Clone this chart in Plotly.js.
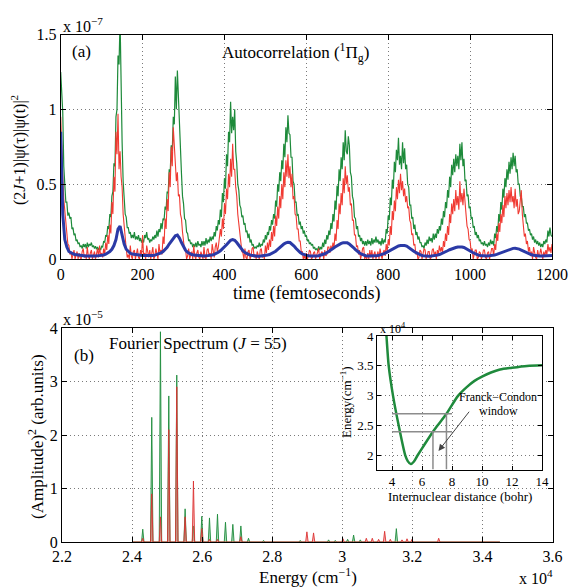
<!DOCTYPE html>
<html><head><meta charset="utf-8">
<script src="https://cdn.plot.ly/plotly-3.0.1.min.js"></script>
<style>html,body{margin:0;padding:0;background:#fff}#chart{width:570px;height:587px}</style>
</head><body><div id="chart"></div>
<script>
// ---------- (a) Autocorrelation (units of 1e-7) ----------
// green and red sampled every 2.5 fs, blue every 5 fs, all from 0 to 1200 fs
const acStart = 0, fineStep = 2.5, coarseStep = 5;
const greenAC = [
 1.25,1.05,0.98,0.62,0.48,0.38,0.38,0.29,0.31,0.27,0.28,0.2,0.21,0.16,0.17,0.12,0.13,0.1,0.11,0.08,
 0.09,0.07,0.1,0.08,0.1,0.07,0.11,0.08,0.1,0.09,0.11,0.08,0.09,0.07,0.085,0.065,0.08,0.06,0.075,0.06,
 0.085,0.08,0.12,0.11,0.16,0.15,0.22,0.2,0.3,0.28,0.42,0.45,0.64,0.62,0.95,1.0,1.36,1.3,1.6,1.1,
 0.78,0.52,0.42,0.3,0.28,0.21,0.21,0.17,0.18,0.14,0.16,0.14,0.18,0.13,0.15,0.13,0.16,0.12,0.14,0.11,
 0.13,0.11,0.16,0.14,0.18,0.13,0.14,0.11,0.13,0.12,0.15,0.13,0.16,0.14,0.19,0.15,0.2,0.18,0.24,0.2,
 0.27,0.26,0.35,0.33,0.45,0.44,0.6,0.58,0.76,0.72,0.95,0.9,1.22,1.0,1.26,1.05,0.88,0.64,0.57,0.42,
 0.37,0.27,0.26,0.18,0.17,0.12,0.13,0.1,0.11,0.08,0.1,0.08,0.11,0.08,0.12,0.09,0.1,0.08,0.12,0.09,
 0.12,0.09,0.14,0.1,0.13,0.11,0.15,0.12,0.15,0.13,0.18,0.15,0.22,0.19,0.26,0.23,0.33,0.28,0.44,0.38,
 0.54,0.47,0.7,0.62,0.85,0.78,1.05,0.84,0.95,0.86,1.0,0.72,0.64,0.5,0.46,0.36,0.34,0.28,0.29,0.23,
 0.24,0.18,0.19,0.14,0.17,0.11,0.13,0.09,0.1,0.07,0.08,0.07,0.09,0.08,0.11,0.08,0.1,0.09,0.13,0.11,
 0.16,0.13,0.18,0.16,0.22,0.19,0.26,0.23,0.3,0.27,0.39,0.35,0.5,0.45,0.58,0.52,0.66,0.6,0.77,0.68,
 0.88,0.78,0.96,0.84,0.83,0.68,0.68,0.52,0.5,0.38,0.38,0.29,0.3,0.23,0.25,0.2,0.22,0.17,0.19,0.15,
 0.16,0.12,0.13,0.1,0.11,0.09,0.1,0.07,0.08,0.06,0.07,0.055,0.085,0.06,0.08,0.065,0.11,0.08,0.13,0.1,
 0.16,0.13,0.19,0.16,0.24,0.2,0.3,0.25,0.39,0.33,0.49,0.42,0.6,0.52,0.68,0.6,0.78,0.66,0.86,0.72,
 0.7,0.82,0.76,0.58,0.55,0.42,0.39,0.28,0.27,0.2,0.22,0.15,0.16,0.12,0.14,0.1,0.12,0.09,0.12,0.09,
 0.13,0.1,0.12,0.09,0.14,0.1,0.13,0.11,0.15,0.11,0.13,0.1,0.12,0.09,0.14,0.1,0.13,0.11,0.2,0.17,
 0.29,0.26,0.41,0.36,0.53,0.47,0.65,0.58,0.73,0.66,0.81,0.63,0.69,0.6,0.78,0.64,0.74,0.6,0.63,0.5,
 0.48,0.36,0.36,0.27,0.28,0.2,0.23,0.16,0.18,0.13,0.15,0.11,0.11,0.08,0.09,0.07,0.11,0.09,0.13,0.1,
 0.15,0.12,0.14,0.11,0.17,0.13,0.17,0.14,0.2,0.17,0.22,0.19,0.27,0.23,0.32,0.28,0.38,0.34,0.46,0.41,
 0.55,0.48,0.63,0.56,0.67,0.58,0.7,0.62,0.69,0.6,0.77,0.66,0.78,0.62,0.67,0.52,0.53,0.42,0.43,0.34,
 0.35,0.27,0.28,0.21,0.22,0.16,0.18,0.14,0.16,0.12,0.13,0.1,0.11,0.09,0.12,0.09,0.1,0.08,0.11,0.09,
 0.13,0.1,0.12,0.09,0.17,0.14,0.22,0.18,0.3,0.25,0.38,0.33,0.47,0.41,0.54,0.48,0.6,0.53,0.65,0.57,
 0.68,0.6,0.71,0.62,0.69,0.58,0.6,0.5,0.5,0.42,0.42,0.35,0.35,0.28,0.3,0.24,0.24,0.19,0.2,0.16,
 0.17,0.13,0.15,0.11,0.13,0.1,0.12,0.09,0.11,0.08,0.1,0.08,0.12,0.1,0.13,0.11,0.19,0.15,0.21,0.16,
 0.15];
const redAC = [
 0.95,0.7,0.55,0.4,0.32,0.22,0.16,0.1,0.09,0.03,0.05,0.0,0.03,0.06,0.0,0.02,0.05,0.0,0.04,0.01,
 0.0,0.05,0.07,0.01,0.03,0.0,0.08,0.02,0.0,0.04,0.06,0.0,0.02,0.05,0.0,0.03,0.07,0.01,0.09,0.02,
 0.04,0.01,0.07,0.03,0.11,0.06,0.16,0.1,0.23,0.17,0.38,0.3,0.55,0.45,0.85,0.7,0.97,0.6,0.72,0.55,
 0.48,0.3,0.22,0.1,0.07,0.01,0.03,0.0,0.09,0.02,0.0,0.05,0.06,0.0,0.03,0.07,0.01,0.0,0.06,0.02,
 0.16,0.02,0.04,0.0,0.09,0.03,0.01,0.06,0.0,0.04,0.08,0.0,0.02,0.07,0.03,0.0,0.1,0.04,0.06,0.03,
 0.15,0.1,0.27,0.2,0.4,0.32,0.58,0.48,0.75,0.62,0.88,0.7,0.64,0.52,0.58,0.42,0.43,0.3,0.27,0.18,
 0.13,0.06,0.06,0.0,0.02,0.07,0.0,0.03,0.05,0.0,0.09,0.02,0.0,0.04,0.06,0.01,0.0,0.05,0.03,0.0,
 0.08,0.01,0.0,0.06,0.07,0.02,0.04,0.0,0.1,0.03,0.01,0.08,0.11,0.05,0.08,0.14,0.2,0.15,0.27,0.2,
 0.37,0.3,0.47,0.4,0.57,0.48,0.67,0.55,0.77,0.6,0.6,0.48,0.42,0.3,0.24,0.15,0.12,0.05,0.04,0.0,
 0.07,0.01,0.0,0.05,0.06,0.0,0.02,0.07,0.08,0.01,0.03,0.0,0.05,0.02,0.0,0.06,0.07,0.01,0.03,0.0,
 0.09,0.04,0.11,0.06,0.13,0.08,0.18,0.12,0.22,0.15,0.29,0.22,0.35,0.27,0.42,0.34,0.5,0.4,0.58,0.48,
 0.66,0.55,0.7,0.54,0.62,0.48,0.57,0.4,0.42,0.3,0.29,0.2,0.2,0.12,0.12,0.05,0.05,0.0,0.02,0.0,
 0.04,0.0,0.02,0.06,0.05,0.0,0.01,0.04,0.05,0.0,0.03,0.06,0.07,0.0,0.02,0.05,0.04,0.0,0.06,0.02,
 0.03,0.08,0.08,0.04,0.09,0.06,0.11,0.07,0.17,0.12,0.26,0.2,0.37,0.3,0.44,0.36,0.54,0.44,0.62,0.5,
 0.56,0.45,0.48,0.36,0.37,0.26,0.26,0.16,0.16,0.08,0.09,0.03,0.06,0.0,0.03,0.07,0.08,0.0,0.02,0.0,
 0.04,0.0,0.06,0.01,0.06,0.0,0.03,0.05,0.0,0.03,0.05,0.0,0.07,0.03,0.0,0.04,0.06,0.02,0.1,0.05,
 0.13,0.09,0.22,0.16,0.32,0.26,0.39,0.32,0.48,0.4,0.53,0.44,0.57,0.46,0.52,0.42,0.47,0.38,0.42,0.34,
 0.35,0.26,0.24,0.16,0.17,0.09,0.1,0.03,0.05,0.0,0.01,0.06,0.05,0.0,0.03,0.07,0.06,0.0,0.02,0.05,
 0.05,0.0,0.01,0.06,0.07,0.02,0.05,0.0,0.06,0.03,0.09,0.05,0.08,0.04,0.12,0.08,0.17,0.12,0.22,0.16,
 0.3,0.24,0.37,0.3,0.4,0.32,0.46,0.36,0.42,0.33,0.52,0.38,0.44,0.36,0.47,0.34,0.3,0.22,0.2,0.13,
 0.12,0.05,0.07,0.0,0.03,0.06,0.06,0.0,0.01,0.05,0.04,0.0,0.02,0.06,0.06,0.01,0.0,0.04,0.05,0.0,
 0.03,0.07,0.07,0.02,0.1,0.06,0.17,0.12,0.24,0.18,0.3,0.24,0.36,0.28,0.42,0.34,0.44,0.36,0.46,0.38,
 0.48,0.38,0.42,0.34,0.47,0.35,0.4,0.3,0.32,0.38,0.46,0.3,0.22,0.15,0.17,0.1,0.12,0.05,0.08,0.02,
 0.05,0.0,0.08,0.03,0.01,0.0,0.06,0.02,0.03,0.07,0.04,0.0,0.05,0.02,0.06,0.03,0.1,0.05,0.08,0.04,
 0.1];
const blueAC = [
 0.85,0.3,0.13,0.08,0.05,0.04,0.035,0.03,0.027,0.025,
 0.022,0.02,0.02,0.02,0.019,0.019,0.02,0.02,0.021,0.022,
 0.024,0.027,0.032,0.04,0.05,0.065,0.09,0.13,0.2,0.22,
 0.16,0.1,0.065,0.048,0.038,0.033,0.03,0.028,0.026,0.025,
 0.024,0.023,0.022,0.022,0.023,0.024,0.026,0.029,0.033,0.04,
 0.05,0.062,0.078,0.1,0.12,0.14,0.155,0.16,0.14,0.11,
 0.08,0.058,0.045,0.036,0.03,0.026,0.024,0.022,0.021,0.02,
 0.02,0.021,0.022,0.024,0.027,0.031,0.037,0.045,0.055,0.067,
 0.08,0.095,0.11,0.125,0.13,0.125,0.11,0.09,0.07,0.055,
 0.043,0.035,0.029,0.025,0.022,0.02,0.019,0.019,0.02,0.021,
 0.023,0.026,0.03,0.036,0.043,0.052,0.064,0.077,0.09,0.1,
 0.108,0.112,0.11,0.1,0.086,0.07,0.055,0.043,0.034,0.028,
 0.024,0.021,0.02,0.019,0.019,0.02,0.022,0.025,0.029,0.035,
 0.042,0.05,0.06,0.07,0.08,0.09,0.098,0.104,0.108,0.11,
 0.108,0.1,0.09,0.077,0.063,0.05,0.04,0.032,0.026,0.022,
 0.02,0.019,0.019,0.02,0.021,0.023,0.026,0.03,0.036,0.043,
 0.051,0.06,0.068,0.076,0.082,0.087,0.09,0.092,0.09,0.086,
 0.078,0.068,0.057,0.047,0.038,0.031,0.026,0.022,0.02,0.019,
 0.019,0.02,0.021,0.023,0.026,0.03,0.035,0.041,0.048,0.055,
 0.062,0.068,0.073,0.077,0.08,0.081,0.08,0.077,0.071,0.063,
 0.054,0.045,0.037,0.031,0.026,0.023,0.021,0.02,0.02,0.021,
 0.022,0.024,0.027,0.031,0.036,0.042,0.048,0.054,0.06,0.065,
 0.069,0.071,0.072,0.07,0.066,0.06,0.053,0.046,0.039,0.033,
 0.028,0.025,0.022,0.021,0.02,0.02,0.02,0.021,0.022,0.023,
 0.024];
const timeTicks = [0,200,400,600,800,1000,1200];

// ---------- (b) Fourier spectrum peaks (energy cm^-1, amplitude^2 in 1e-5) ----------
const greenPeakE = [24305,24562,24810,25048,25276,25514,25752,25990,26209,26438,26666,26876,27105,27323,27752,28800,29609,29800,30152,30323,30514,31543];
const greenPeakA = [0.24,2.33,3.93,2.73,3.12,0.62,0.3,0.48,0.45,0.52,0.37,0.33,0.3,0.07,0.03,0.03,0.04,0.03,0.05,0.13,0.04,0.25];
const redPeakE = [24305,24562,24810,25048,25276,25514,25752,25990,26209,26438,27105,28990,29180,30020,30686,30857,31037,31209,31371,31705,31848,31990,32752];
const redPeakA = [0.07,0.9,0.47,2.1,2.9,0.47,1.14,0.25,0.05,0.05,0.1,0.19,0.17,0.06,0.07,0.07,0.05,0.2,0.05,0.04,0.06,0.05,0.07];
const spectrumSpan = [24000, 34500];
const energyTickVals = [22000,24000,26000,28000,30000,32000,34000,36000];
const energyTickText = ['2.2','2.4','2.6','2.8','3','3.2','3.4','3.6'];

// ---------- inset: potential curve (bohr, energy in 1e4 cm^-1) ----------
const potR = [3.58,3.63,3.78,4.07,4.45,4.89,5.05,5.25,5.45,5.69,6.2,6.73,7.02,7.63,8.4,9.0,9.5,10.0,10.6,11.2,12.0,13.0,14.0];
const potE = [4.15,4.0,3.5,3.0,2.5,2.0,1.91,1.86,1.9,2.0,2.2,2.4,2.5,2.7,3.0,3.15,3.25,3.32,3.39,3.44,3.47,3.5,3.51];
const fcEnergies = [2.4, 2.7];
const fcR = [6.73, 7.63];
const fcRSpan = [4.0, 8.0];
const arrowHead = [7.1, 2.08], arrowTail = [9.22, 2.76];
const insetRTicks = [4,6,8,10,12,14];
const insetETicks = [2,2.5,3,3.5,4];

// ---------- layout helpers ----------
const W = 570, H = 587;
const px = x => x / W, py = y => 1 - y / H;
const FONT = 'Liberation Serif, Times New Roman, serif';

function spikes(E, A) {
  const idx = E.map((e, i) => i).sort((a, b) => E[a] - E[b]);
  const xs = [spectrumSpan[0]], ys = [0];
  const hw = 35;
  idx.forEach(i => { xs.push(E[i] - hw, E[i], E[i] + hw); ys.push(0, A[i], 0); });
  xs.push(spectrumSpan[1]); ys.push(0);
  return {xs, ys};
}
const gS = spikes(greenPeakE, greenPeakA);
const rS = spikes(redPeakE, redPeakA);

const traces = [
  {x0: acStart, dx: fineStep, y: greenAC, type: 'scatter', mode: 'lines', xaxis: 'x', yaxis: 'y',
   line: {color: '#1d8a3a', width: 1.2}, hoverinfo: 'skip'},
  {x0: acStart, dx: fineStep, y: redAC, type: 'scatter', mode: 'lines', xaxis: 'x', yaxis: 'y',
   line: {color: '#f03a32', width: 1.1}, hoverinfo: 'skip'},
  {x0: acStart, dx: coarseStep, y: blueAC, type: 'scatter', mode: 'lines', xaxis: 'x', yaxis: 'y',
   line: {color: '#2b3aa6', width: 3}, hoverinfo: 'skip'},
  {x: gS.xs, y: gS.ys, type: 'scatter', mode: 'lines', xaxis: 'x2', yaxis: 'y2', fill: 'tozeroy',
   fillcolor: 'rgba(70,170,100,0.45)', line: {color: 'rgba(30,140,60,0.9)', width: 1}, hoverinfo: 'skip'},
  {x: rS.xs, y: rS.ys, type: 'scatter', mode: 'lines', xaxis: 'x2', yaxis: 'y2', fill: 'tozeroy',
   fillcolor: 'rgba(240,110,110,0.45)', line: {color: 'rgba(220,50,50,0.9)', width: 1}, hoverinfo: 'skip'},
  {x: potR, y: potE, type: 'scatter', mode: 'lines', xaxis: 'x3', yaxis: 'y3',
   line: {color: '#1f8a3c', width: 2.5, shape: 'spline', smoothing: 0.8}, hoverinfo: 'skip'}
];

const axBase = {
  showline: true, linecolor: '#000', linewidth: 1, mirror: 'allticks',
  ticks: 'inside', ticklen: 5, tickcolor: '#000', tickwidth: 1,
  showgrid: true, gridcolor: '#7a7a7a', griddash: '1px,3px', gridwidth: 1,
  zeroline: false, fixedrange: true,
  tickfont: {family: FONT, size: 16, color: '#000'}
};
const insetFont = {family: FONT, size: 13, color: '#000'};

const layout = {
  width: W, height: H, margin: {l: 0, r: 0, t: 0, b: 0},
  paper_bgcolor: '#fff', plot_bgcolor: '#fff', showlegend: false,
  font: {family: FONT, color: '#000'},
  xaxis: Object.assign({}, axBase, {domain: [px(60.7), px(552)], range: [0, 1200],
    tickvals: timeTicks, anchor: 'y', ticklabelstandoff: 1}),
  yaxis: Object.assign({}, axBase, {domain: [py(259), py(34.5)], range: [0, 1.5],
    tickvals: [0, 0.5, 1, 1.5], anchor: 'x'}),
  xaxis2: Object.assign({}, axBase, {domain: [px(62), px(552.5)], range: [22000, 36000],
    tickvals: energyTickVals, ticktext: energyTickText, anchor: 'y2', ticklabelstandoff: 0}),
  yaxis2: Object.assign({}, axBase, {domain: [py(542), py(328)], range: [0, 4],
    tickvals: [0, 1, 2, 3, 4], anchor: 'x2'}),
  xaxis3: Object.assign({}, axBase, {domain: [px(377), px(542)], range: [3, 14],
    tickvals: insetRTicks, anchor: 'y3', ticklen: 4, tickfont: insetFont}),
  yaxis3: Object.assign({}, axBase, {domain: [py(469.5), py(336)], range: [1.77, 4],
    tickvals: insetETicks, anchor: 'x3', ticklen: 4, tickfont: insetFont}),
  shapes: [
    ...fcEnergies.map(e => ({type: 'line', xref: 'x3', yref: 'y3', x0: fcRSpan[0], x1: fcRSpan[1], y0: e, y1: e,
      line: {color: '#8c8c8c', width: 1.5}})),
    ...fcR.map((r, i) => ({type: 'line', xref: 'x3', yref: 'y3', x0: r, x1: r, y0: 1.77, y1: fcEnergies[i],
      line: {color: '#8c8c8c', width: 1.5}}))
  ],
  annotations: [
    {xref: 'paper', yref: 'paper', x: px(61), y: py(25), xanchor: 'left', yanchor: 'middle', showarrow: false,
     text: 'x 10<sup>−7</sup>', font: {size: 16}},
    {xref: 'paper', yref: 'paper', x: px(70), y: py(52), xanchor: 'left', yanchor: 'middle', showarrow: false,
     text: '(a)', font: {size: 17}},
    {xref: 'paper', yref: 'paper', x: px(295), y: py(53), xanchor: 'center', yanchor: 'middle', showarrow: false,
     text: 'Autocorrelation (<sup>1</sup>Π<sub>g</sub>)', font: {size: 17}},
    {xref: 'paper', yref: 'paper', x: px(18), y: py(150), xanchor: 'center', yanchor: 'middle', showarrow: false,
     textangle: -90, text: '(2<i>J</i>+1)|ψ(τ)|ψ(t)|<sup>2</sup>', font: {size: 16}},
    {xref: 'paper', yref: 'paper', x: px(306), y: py(294), xanchor: 'center', yanchor: 'middle', showarrow: false,
     text: 'time (femtoseconds)', font: {size: 18}},
    {xref: 'paper', yref: 'paper', x: px(61), y: py(318), xanchor: 'left', yanchor: 'middle', showarrow: false,
     text: 'x 10<sup>−5</sup>', font: {size: 16}},
    {xref: 'paper', yref: 'paper', x: px(72), y: py(355), xanchor: 'left', yanchor: 'middle', showarrow: false,
     text: '(b)', font: {size: 17}},
    {xref: 'paper', yref: 'paper', x: px(198), y: py(343), xanchor: 'center', yanchor: 'middle', showarrow: false,
     text: 'Fourier Spectrum (<i>J</i> = 55)', font: {size: 17}},
    {xref: 'paper', yref: 'paper', x: px(36), y: py(437), xanchor: 'center', yanchor: 'middle', showarrow: false,
     textangle: -90, text: '(Amplitude)<sup>2</sup> (arb.units)', font: {size: 17}},
    {xref: 'paper', yref: 'paper', x: px(308), y: py(576), xanchor: 'center', yanchor: 'middle', showarrow: false,
     text: 'Energy (cm<sup>−1</sup>)', font: {size: 17}},
    {xref: 'paper', yref: 'paper', x: px(517), y: py(577), xanchor: 'left', yanchor: 'middle', showarrow: false,
     text: 'x 10<sup>4</sup>', font: {size: 16}},
    {xref: 'paper', yref: 'paper', x: px(378), y: py(328), xanchor: 'left', yanchor: 'middle', showarrow: false,
     text: 'x 10<sup>4</sup>', font: {size: 12}},
    {xref: 'paper', yref: 'paper', x: px(346), y: py(402), xanchor: 'center', yanchor: 'middle', showarrow: false,
     textangle: -90, text: 'Energy(cm<sup>−1</sup>)', font: {size: 13}},
    {xref: 'paper', yref: 'paper', x: px(460), y: py(496), xanchor: 'center', yanchor: 'middle', showarrow: false,
     text: 'Internuclear distance (bohr)', font: {size: 13}},
    {xref: 'x3', yref: 'y3', x: 11.1, y: 2.98, xanchor: 'center', yanchor: 'middle', showarrow: false,
     text: 'Franck−Condon', font: {size: 12}},
    {xref: 'x3', yref: 'y3', x: 11.1, y: 2.75, xanchor: 'center', yanchor: 'middle', showarrow: false,
     text: 'window', font: {size: 12}},
    {xref: 'x3', yref: 'y3', x: arrowHead[0], y: arrowHead[1], axref: 'x3', ayref: 'y3',
     ax: arrowTail[0], ay: arrowTail[1], showarrow: true, arrowhead: 2, arrowsize: 1.3, arrowwidth: 1,
     arrowcolor: '#444', text: ''}
  ]
};

Plotly.newPlot('chart', traces, layout, {staticPlot: true, displayModeBar: false});
</script>
</body></html>
